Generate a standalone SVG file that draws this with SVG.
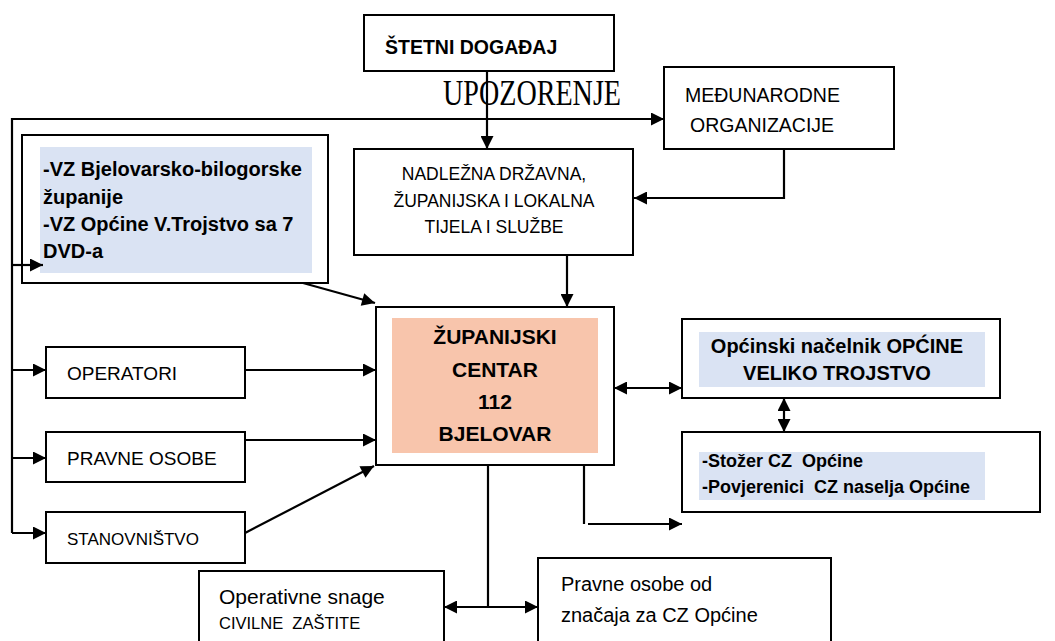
<svg xmlns="http://www.w3.org/2000/svg" width="1055" height="641" viewBox="0 0 1055 641">
<defs>
<marker id="ah" viewBox="0 0 10 10" refX="10" refY="5" markerWidth="15" markerHeight="13" markerUnits="userSpaceOnUse" orient="auto-start-reverse">
<path d="M0,0 L10,5 L0,10 z" fill="#000"/>
</marker>
<style>
.box{fill:#fff;stroke:#000;stroke-width:2}
.t{font-family:"Liberation Sans",Arial,sans-serif;fill:#000}
.b{font-weight:bold}
.c{stroke:#000;stroke-width:2.2;fill:none}
.a{marker-end:url(#ah)}
.d{marker-start:url(#ah);marker-end:url(#ah)}
.blue{fill:#dae3f3}
.sal{fill:#f8c5ac}
</style>
</defs>
<rect width="1055" height="641" fill="#fff"/>

<g id="stetni">
<rect class="box" x="364" y="15" width="250" height="56"/>
<text class="t b" x="385" y="54" font-size="19.5">ŠTETNI DOGAĐAJ</text>
</g>

<g id="upozorenje">
<text x="443" y="105" font-family="'Liberation Serif','Times New Roman',serif" font-size="35" textLength="178" lengthAdjust="spacingAndGlyphs">UPOZORENJE</text>
</g>

<g id="medjunarodne">
<rect class="box" x="664" y="67" width="230" height="82"/>
<text class="t" x="685" y="102" font-size="19.5">MEĐUNARODNE</text>
<text class="t" x="690" y="132" font-size="19.5">ORGANIZACIJE</text>
</g>

<g id="nadlezna">
<rect class="box" x="354" y="149" width="279" height="106"/>
<text class="t" x="494" y="180" font-size="17.5" text-anchor="middle">NADLEŽNA DRŽAVNA,</text>
<text class="t" x="494" y="207" font-size="17.5" text-anchor="middle">ŽUPANIJSKA I LOKALNA</text>
<text class="t" x="494" y="233" font-size="17.5" text-anchor="middle">TIJELA I SLUŽBE</text>
</g>

<g id="vz">
<rect class="box" x="22" y="135" width="306" height="148"/>
<rect class="blue" x="40" y="147" width="272" height="126"/>
<text class="t b" x="43" y="176" font-size="20">-VZ Bjelovarsko-bilogorske</text>
<text class="t b" x="43" y="204" font-size="20">županije</text>
<text class="t b" x="43" y="231" font-size="20">-VZ Općine V.Trojstvo sa 7</text>
<text class="t b" x="43" y="258" font-size="20">DVD-a</text>
</g>

<g id="centar">
<rect class="box" x="376" y="307" width="238" height="158"/>
<rect class="sal" x="392" y="318" width="206" height="135"/>
<text class="t b" x="495" y="344" font-size="21" text-anchor="middle">ŽUPANIJSKI</text>
<text class="t b" x="495" y="377" font-size="21" text-anchor="middle">CENTAR</text>
<text class="t b" x="495" y="409" font-size="21" text-anchor="middle">112</text>
<text class="t b" x="495" y="441" font-size="21" text-anchor="middle">BJELOVAR</text>
</g>

<g id="operatori">
<rect class="box" x="46" y="347" width="199" height="51"/>
<text class="t" x="67" y="380" font-size="19">OPERATORI</text>
</g>

<g id="pravne">
<rect class="box" x="46" y="432" width="199" height="50"/>
<text class="t" x="67" y="465" font-size="19">PRAVNE OSOBE</text>
</g>

<g id="stanovnistvo">
<rect class="box" x="46" y="512" width="199" height="51"/>
<text class="t" x="67" y="545" font-size="17">STANOVNIŠTVO</text>
</g>

<g id="opcinski">
<rect class="box" x="682" y="319" width="318" height="79"/>
<rect class="blue" x="699" y="332" width="286" height="55"/>
<text class="t b" x="837" y="353" font-size="20" text-anchor="middle">Općinski načelnik OPĆINE</text>
<text class="t b" x="837" y="380" font-size="20" text-anchor="middle">VELIKO TROJSTVO</text>
</g>

<g id="stozer">
<rect class="box" x="682" y="432" width="358" height="80"/>
<rect class="blue" x="699" y="452" width="286" height="48"/>
<text class="t b" x="702" y="467" font-size="18" xml:space="preserve">-Stožer CZ  Općine</text>
<text class="t b" x="702" y="493" font-size="18" xml:space="preserve">-Povjerenici  CZ naselja Općine</text>
</g>

<g id="operativne">
<rect class="box" x="199" y="571" width="245" height="80"/>
<text class="t" x="219" y="604" font-size="21">Operativne snage</text>
<text class="t" x="219" y="629" font-size="16.5" xml:space="preserve">CIVILNE  ZAŠTITE</text>
</g>

<g id="pravne-cz">
<rect class="box" x="538" y="558" width="293" height="93"/>
<text class="t" x="561" y="591" font-size="20">Pravne osobe od</text>
<text class="t" x="561" y="622" font-size="20">značaja za CZ Općine</text>
</g>

<g id="connectors">
<line class="c a" x1="487" y1="71" x2="487" y2="149"/>
<polyline class="c a" points="12,533 12,119 664,119"/>
<line class="c a" x1="12" y1="265" x2="43" y2="265"/>
<line class="c a" x1="12" y1="370" x2="46" y2="370"/>
<line class="c a" x1="12" y1="458" x2="46" y2="458"/>
<line class="c a" x1="12" y1="533" x2="46" y2="533"/>
<polyline class="c a" points="784,149 784,198 634,198"/>
<line class="c a" x1="567" y1="255" x2="567" y2="307"/>
<line class="c a" x1="303" y1="283" x2="375" y2="303"/>
<line class="c a" x1="245" y1="370" x2="376" y2="370"/>
<line class="c a" x1="245" y1="440" x2="376" y2="440"/>
<line class="c a" x1="245" y1="533" x2="374" y2="466"/>
<line class="c d" x1="614" y1="388" x2="682" y2="388"/>
<line class="c d" x1="784" y1="398" x2="784" y2="432"/>
<line class="c" x1="584" y1="465" x2="584" y2="524"/>
<line class="c a" x1="588" y1="524" x2="682" y2="524"/>
<line class="c" x1="488" y1="465" x2="488" y2="607"/>
<line class="c d" x1="444" y1="607" x2="538" y2="607"/>
</g>
</svg>
